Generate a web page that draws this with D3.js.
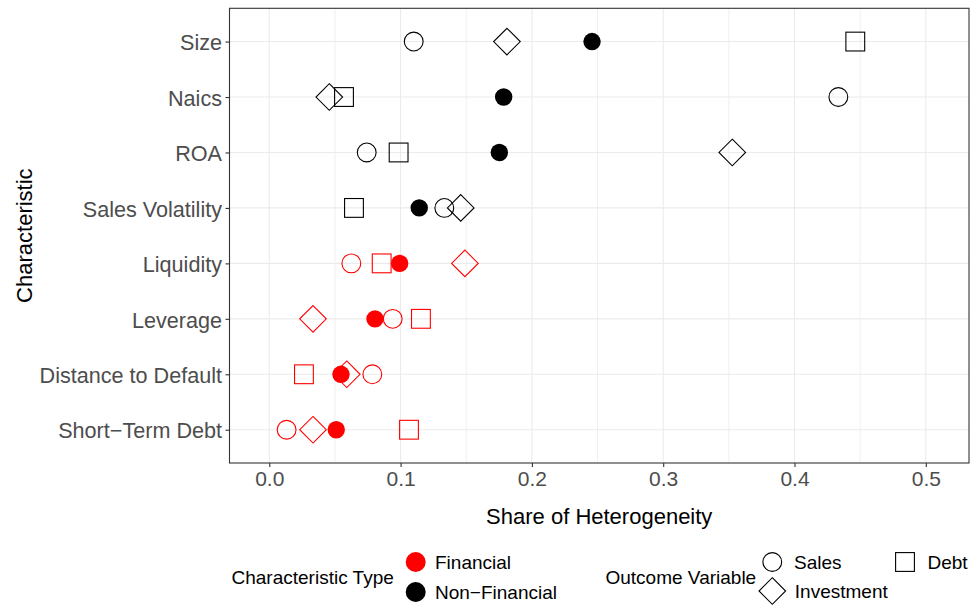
<!DOCTYPE html>
<html><head><meta charset="utf-8">
<script src="https://cdn.jsdelivr.net/npm/d3@7"></script>
<style>body{margin:0;background:#fff}svg{display:block}text{font-family:"Liberation Sans",Arial,sans-serif}</style>
</head><body>
<svg id="c" width="971" height="606"></svg>
<script>
const categories = ["Size","Naics","ROA","Sales Volatility","Liquidity","Leverage","Distance to Default","Short\u2212Term Debt"];
const charType = ["Non-Financial","Non-Financial","Non-Financial","Non-Financial","Financial","Financial","Financial","Financial"];
const salesVals      = [0.110, 0.4334, 0.0742, 0.1333, 0.0625, 0.0940, 0.0785, 0.0132];
const investmentVals = [0.181, 0.0457, 0.3526, 0.1458, 0.1490, 0.0333, 0.0590, 0.0333];
const debtVals       = [0.4463, 0.0569, 0.0985, 0.0645, 0.0856, 0.1155, 0.0264, 0.1064];
const overallVals    = [0.2458, 0.1785, 0.1752, 0.1142, 0.0993, 0.0805, 0.0546, 0.0510];
const xTicks = [0, 0.1, 0.2, 0.3, 0.4, 0.5];
const xMinor = [0.05, 0.15, 0.25, 0.35, 0.45];
const typeLevels = ["Financial","Non-Financial"];
const outcomeLevels = ["Sales","Investment","Debt"];

const svg = d3.select("#c");
const L = 229.5, R = 969, T = 8.3, B = 463;
const x = d3.scaleLinear().domain([-0.0303, 0.5329]).range([L, R]);
const y = d3.scalePoint().domain(categories).range([T, B]).padding(0.6);
const color = d3.scaleOrdinal().domain(typeLevels).range(["#FF0000","#000000"]);

// grid
const g = svg.append("g");
g.selectAll(".mn").data(xMinor).join("line").attr("x1",d=>x(d)).attr("x2",d=>x(d)).attr("y1",T).attr("y2",B).attr("stroke","#EBEBEB").attr("stroke-width",0.8);
g.selectAll(".mj").data(xTicks).join("line").attr("x1",d=>x(d)).attr("x2",d=>x(d)).attr("y1",T).attr("y2",B).attr("stroke","#EBEBEB").attr("stroke-width",1.1);
g.selectAll(".hy").data(categories).join("line").attr("x1",L).attr("x2",R).attr("y1",d=>y(d)).attr("y2",d=>y(d)).attr("stroke","#EBEBEB").attr("stroke-width",1.1);

// axes
const xAxis = svg.append("g").attr("transform",`translate(0,${B})`).call(d3.axisBottom(x).tickValues(xTicks).tickFormat(d3.format(".1f")).tickSize(4).tickPadding(5));
xAxis.select(".domain").remove();
xAxis.selectAll("line").attr("stroke","#333333").attr("stroke-width",1.1);
xAxis.selectAll("text").attr("fill","#4D4D4D").style("font-size","21px").attr("y",23).attr("dy","0");
const yAxis = svg.append("g").attr("transform",`translate(${L},0)`).call(d3.axisLeft(y).tickSize(4).tickPadding(3.5));
yAxis.select(".domain").remove();
yAxis.selectAll("line").attr("stroke","#333333").attr("stroke-width",1.1);
yAxis.selectAll("text").attr("fill","#4D4D4D").style("font-size","21.6px").attr("dy","0.38em");

// points
const pts = svg.append("g");
const diamond = s => `M0,${-s}L${s},0L0,${s}L${-s},0Z`;
const inv = categories.map((c,i)=>({c, v:investmentVals[i], t:charType[i]}));
const all = categories.map((c,i)=>({c, v:overallVals[i], t:charType[i]}));
const sal = categories.map((c,i)=>({c, v:salesVals[i], t:charType[i]}));
const dbt = categories.map((c,i)=>({c, v:debtVals[i], t:charType[i]}));
pts.selectAll(".inv").data(inv).join("path").attr("d",diamond(13.3)).attr("transform",d=>`translate(${x(d.v)},${y(d.c)})`).attr("fill","none").attr("stroke",d=>color(d.t)).attr("stroke-width",1.1);
pts.selectAll(".all").data(all).join("circle").attr("cx",d=>x(d.v)).attr("cy",d=>y(d.c)).attr("r",8.7).attr("fill",d=>color(d.t));
pts.selectAll(".sal").data(sal).join("circle").attr("cx",d=>x(d.v)).attr("cy",d=>y(d.c)).attr("r",9.4).attr("fill","none").attr("stroke",d=>color(d.t)).attr("stroke-width",1.1);
pts.selectAll(".dbt").data(dbt).join("rect").attr("x",d=>x(d.v)-9.4).attr("y",d=>y(d.c)-9.4).attr("width",18.8).attr("height",18.8).attr("fill","none").attr("stroke",d=>color(d.t)).attr("stroke-width",1.1);

// border
svg.append("rect").attr("x",L).attr("y",T).attr("width",R-L).attr("height",B-T).attr("fill","none").attr("stroke","#333333").attr("stroke-width",1.1);

// titles
svg.append("text").attr("x",(L+R)/2).attr("y",523.5).attr("text-anchor","middle").style("font-size","22px").attr("fill","#000").text("Share of Heterogeneity");
svg.append("text").attr("transform",`translate(31.5,${(T+B)/2}) rotate(-90)`).attr("text-anchor","middle").style("font-size","22px").attr("fill","#000").text("Characteristic");

// legends
const lg = svg.append("g");
lg.append("text").attr("x",231.5).attr("y",583.5).style("font-size","19px").text("Characteristic Type");
lg.selectAll(".lt").data(typeLevels).join("circle").attr("cx",415.7).attr("cy",(d,i)=>562+i*30).attr("r",10).attr("fill",d=>color(d));
lg.selectAll(".ltt").data(typeLevels).join("text").attr("x",435).attr("y",(d,i)=>562+i*30).attr("dy","0.36em").style("font-size","19px").text(d=>d.replace("-","\u2212"));

lg.append("text").attr("x",605.5).attr("y",583.5).style("font-size","19px").text("Outcome Variable");
const oPos = {Sales:[772.3,562], Investment:[772.3,591], Debt:[905,562]};
lg.append("circle").attr("cx",oPos.Sales[0]).attr("cy",oPos.Sales[1]).attr("r",9.4).attr("fill","none").attr("stroke","#000").attr("stroke-width",1.1);
lg.append("path").attr("d",diamond(13.3)).attr("transform",`translate(${oPos.Investment[0]},${oPos.Investment[1]})`).attr("fill","none").attr("stroke","#000").attr("stroke-width",1.1);
lg.append("rect").attr("x",oPos.Debt[0]-9.4).attr("y",oPos.Debt[1]-9.4).attr("width",18.8).attr("height",18.8).attr("fill","none").attr("stroke","#000").attr("stroke-width",1.1);
lg.selectAll(".ot").data(outcomeLevels).join("text").attr("x",d=>oPos[d][0]+(d==="Sales"?21.7:22.5)).attr("y",d=>oPos[d][1]).attr("dy","0.36em").style("font-size","19px").text(d=>d);
</script>
</body></html>
